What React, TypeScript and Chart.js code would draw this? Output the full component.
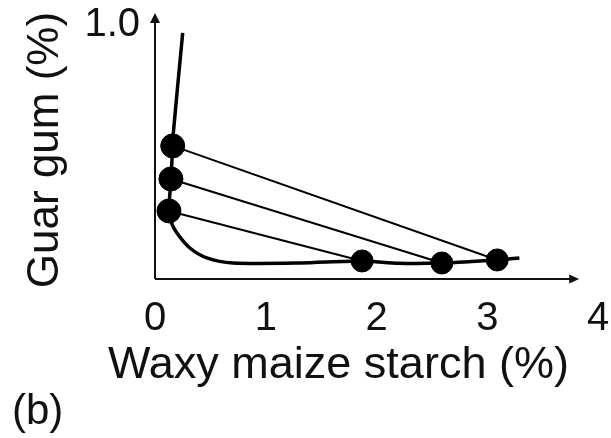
import React, { useEffect, useRef } from "react";
import { Chart, registerables } from "chart.js";

Chart.register(...registerables);

// Binodal curve (waxy maize starch %, guar gum %)
const curveX = [0.25, 0.162, 0.16, 0.144, 0.126, 0.145, 0.198, 0.315, 0.468, 0.703, 1.31, 1.87, 2.2, 2.59, 3.09, 3.29];
const curveY = [0.969, 0.559, 0.524, 0.394, 0.268, 0.225, 0.181, 0.122, 0.083, 0.063, 0.063, 0.071, 0.062, 0.063, 0.075, 0.083];

// Tie-line end points: guar-rich phase (left) and starch-rich phase (right)
const leftX = [0.16, 0.144, 0.126];
const leftY = [0.524, 0.394, 0.268];
const rightX = [3.09, 2.59, 1.87];
const rightY = [0.075, 0.063, 0.071];

const xTicks = [0, 1, 2, 3, 4];
const yTickLabel = "1.0";
const xTitle = "Waxy maize starch (%)";
const yTitle = "Guar gum (%)";
const panelLabel = "(b)";

const FONT = '"Liberation Sans", Arial, Helvetica, sans-serif';

export default function App() {
  const ref = useRef<HTMLCanvasElement | null>(null);

  useEffect(() => {
    const canvas = ref.current;
    if (!canvas) return;

    const tieSets = leftX.map((lx, i) => ({
      type: "line" as const,
      data: [
        { x: lx, y: leftY[i] },
        { x: rightX[i], y: rightY[i] },
      ],
      borderColor: "#000",
      borderWidth: 2,
      pointRadius: 0,
      tension: 0,
      order: 3,
    }));

    const decor = {
      id: "decor",
      afterDraw(chart: any) {
        const ctx = chart.ctx as CanvasRenderingContext2D;
        const xs = chart.scales.x;
        const ys = chart.scales.y;
        const ox = xs.getPixelForValue(0);
        const oy = ys.getPixelForValue(0);
        const xEnd = xs.getPixelForValue(3.83);
        const yEnd = ys.getPixelForValue(1.047);
        ctx.save();
        ctx.strokeStyle = "#111";
        ctx.fillStyle = "#111";
        ctx.lineWidth = 2;
        ctx.beginPath();
        ctx.moveTo(ox, oy);
        ctx.lineTo(ox, yEnd + 6);
        ctx.moveTo(ox, oy);
        ctx.lineTo(xEnd - 6, oy);
        ctx.stroke();
        // arrow heads
        ctx.beginPath();
        ctx.moveTo(ox, yEnd);
        ctx.lineTo(ox - 5, yEnd + 10);
        ctx.lineTo(ox + 5, yEnd + 10);
        ctx.closePath();
        ctx.fill();
        ctx.beginPath();
        ctx.moveTo(xEnd, oy);
        ctx.lineTo(xEnd - 10, oy - 4.5);
        ctx.lineTo(xEnd - 10, oy + 4.5);
        ctx.closePath();
        ctx.fill();

        // titles
        ctx.fillStyle = "#111";
        ctx.font = `45px ${FONT}`;
        ctx.textAlign = "left";
        ctx.textBaseline = "alphabetic";
        ctx.fillText(xTitle, 108, 378);

        ctx.save();
        ctx.translate(58, 150);
        ctx.rotate(-Math.PI / 2);
        ctx.textAlign = "center";
        ctx.font = `44px ${FONT}`;
        ctx.fillText(yTitle, 0, 0);
        ctx.restore();

        ctx.font = `42px ${FONT}`;
        ctx.textAlign = "left";
        ctx.fillText(panelLabel, 12, 424);
        ctx.restore();
      },
    };

    const chart = new Chart(canvas, {
      type: "scatter",
      data: {
        datasets: [
          {
            type: "scatter",
            data: [
              ...leftX.map((x, i) => ({ x, y: leftY[i] })),
              ...rightX.map((x, i) => ({ x, y: rightY[i] })),
            ],
            backgroundColor: "#000",
            borderColor: "#000",
            pointRadius: [12, 12, 12, 11, 11, 11],
            pointHoverRadius: 12,
            order: 1,
          },
          {
            type: "line",
            data: curveX.map((x, i) => ({ x, y: curveY[i] })),
            borderColor: "#000",
            borderWidth: 3.5,
            pointRadius: 0,
            tension: 0.25,
            order: 2,
          },
          ...tieSets,
        ] as any,
      },
      options: {
        responsive: false,
        animation: false,
        events: [],
        layout: { padding: { top: 25, right: 12, left: 0, bottom: 0 } },
        plugins: {
          legend: { display: false },
          tooltip: { enabled: false },
          title: { display: false },
        },
        scales: {
          x: {
            type: "linear",
            min: 0,
            max: 4,
            grid: { display: false, drawTicks: false },
            border: { display: false },
            afterBuildTicks: (s: any) => {
              s.ticks = xTicks.map((v) => ({ value: v }));
            },
            afterFit: (s: any) => {
              s.height = 159;
              s.paddingLeft = 0;
              s.paddingRight = 0;
              s.paddingTop = 0;
              s.paddingBottom = 0;
            },
            ticks: {
              padding: 16,
              color: "#111",
              font: { family: FONT, size: 40 },
              maxRotation: 0,
              callback: (v: any) => String(v),
            },
          },
          y: {
            type: "linear",
            min: 0,
            max: 1,
            grid: { display: false, drawTicks: false },
            border: { display: false },
            afterBuildTicks: (s: any) => {
              s.ticks = [{ value: 1 }];
            },
            afterFit: (s: any) => {
              s.width = 155;
              s.paddingLeft = 0;
              s.paddingRight = 0;
              s.paddingTop = 0;
              s.paddingBottom = 0;
            },
            ticks: {
              padding: 15,
              color: "#111",
              font: { family: FONT, size: 40 },
              callback: () => yTickLabel,
            },
          },
        },
      },
      plugins: [decor],
    });

    return () => chart.destroy();
  }, []);

  return (
    <div style={{ position: "fixed", left: 0, top: 0, width: 611, height: 438, background: "#fff" }}>
      <canvas ref={ref} width={611} height={438} />
    </div>
  );
}
